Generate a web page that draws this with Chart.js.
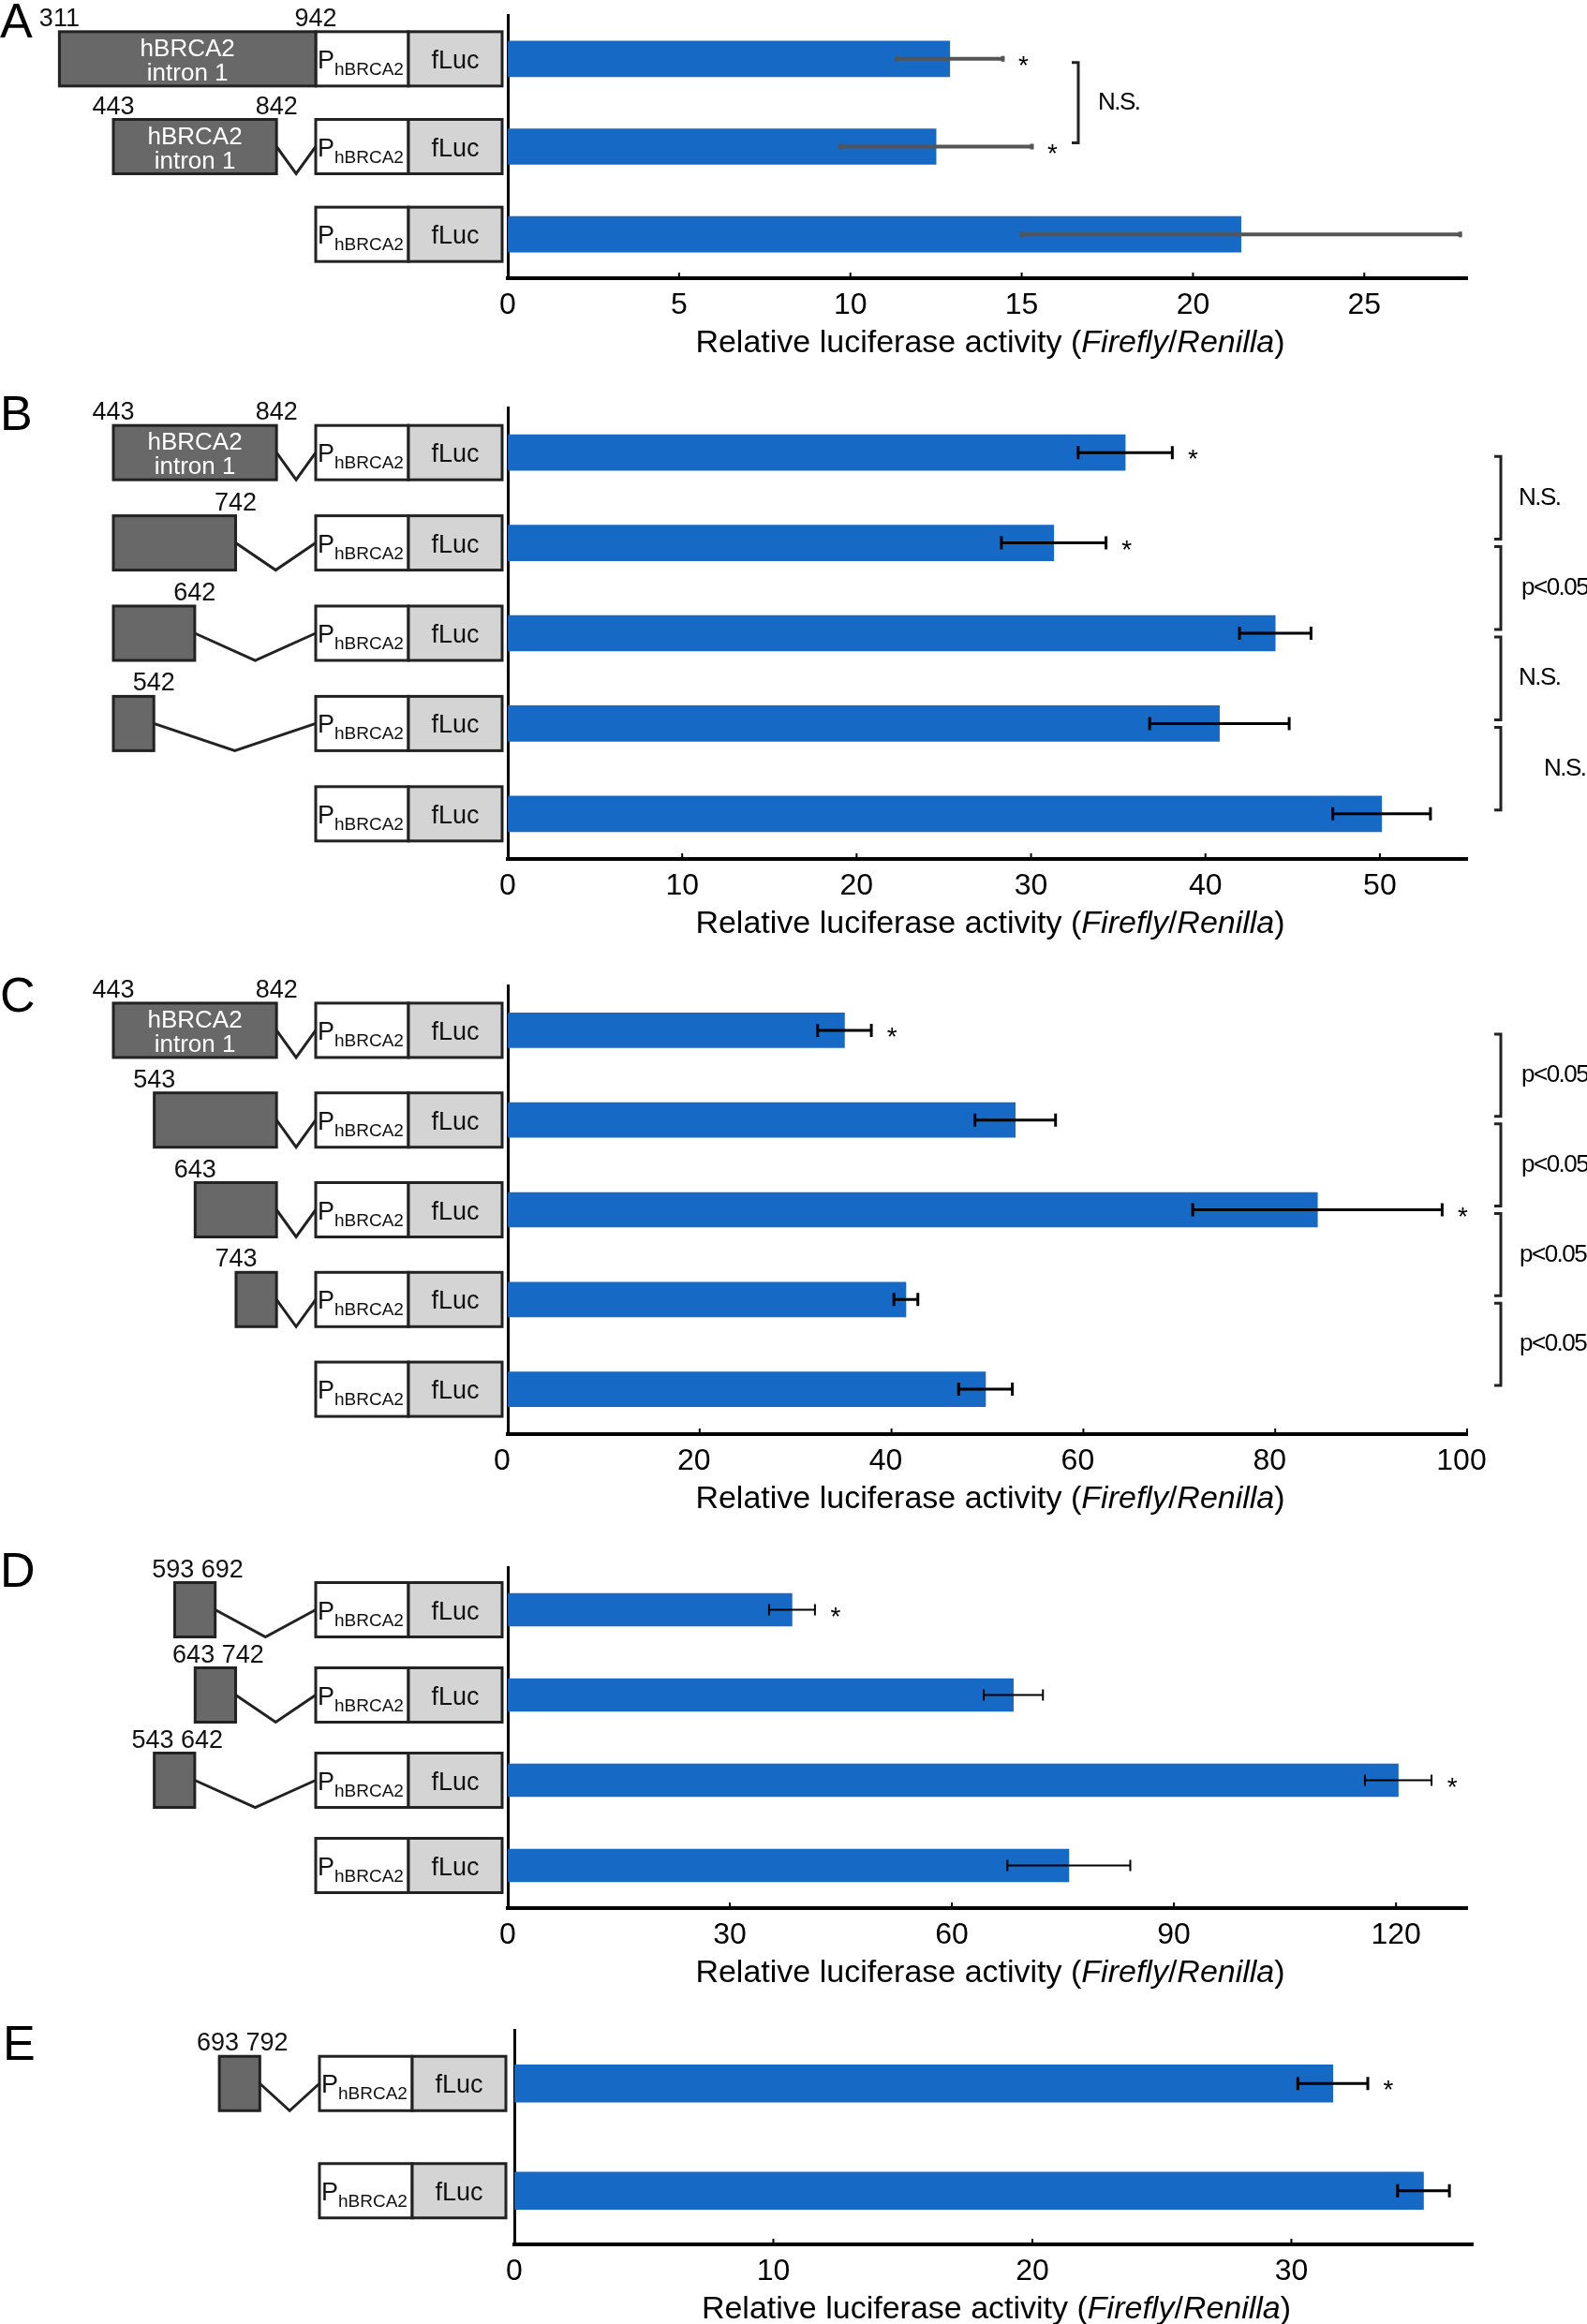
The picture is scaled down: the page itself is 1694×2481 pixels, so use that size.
<!DOCTYPE html>
<html>
<head>
<meta charset="utf-8">
<script src="https://cdn.jsdelivr.net/npm/chart.js@4.4.1/dist/chart.umd.min.js"></script>
<style>
  html, body { margin: 0; padding: 0; background: #fff; }
  body { width: 1694px; height: 2481px; position: relative; overflow: hidden; }
  .panel { position: absolute; left: 0; width: 1694px; }
</style>
</head>
<body>
<div class="panel" style="top:0"><canvas id="chartA" width="1694" height="410"></canvas></div>
<div class="panel" style="top:410px"><canvas id="chartB" width="1694" height="620"></canvas></div>
<div class="panel" style="top:1030px"><canvas id="chartC" width="1694" height="610"></canvas></div>
<div class="panel" style="top:1640px"><canvas id="chartD" width="1694" height="500"></canvas></div>
<div class="panel" style="top:2140px"><canvas id="chartE" width="1694" height="341"></canvas></div>

<script>
// ---- data ----
const titleParts = [["Relative luciferase activity (", false], ["Firefly", true], ["/", false], ["Renilla", true], [")", false]];

// A
const labelsA = ["311-942", "443-842", "promoter"];
const valuesA = [12.9, 12.5, 21.4];
const errorsA = [1.55, 2.8, 6.4];
const starsA = [true, true, false];
const constructsA = [[311, 942], [443, 842], null];
const bracketsA = ["N.S."];

// B
const labelsB = ["443-842", "443-742", "443-642", "443-542", "promoter"];
const valuesB = [35.4, 31.3, 44.0, 40.8, 50.1];
const errorsB = [2.7, 3.0, 2.05, 4.0, 2.8];
const starsB = [true, true, false, false, false];
const constructsB = [[443, 842], [443, 742], [443, 642], [443, 542], null];
const bracketsB = ["N.S.", "p<0.05", "N.S.", "N.S."];

// C
const labelsC = ["443-842", "543-842", "643-842", "743-842", "promoter"];
const valuesC = [35.1, 52.9, 84.4, 41.5, 49.8];
const errorsC = [2.8, 4.2, 13.0, 1.25, 2.8];
const starsC = [true, false, true, false, false];
const constructsC = [[443, 842], [543, 842], [643, 842], [743, 842], null];
const bracketsC = ["p<0.05", "p<0.05", "p<0.05", "p<0.05"];

// D
const labelsD = ["593-692", "643-742", "543-642", "promoter"];
const valuesD = [38.4, 68.3, 120.3, 75.8];
const errorsD = [3.1, 4.0, 4.5, 8.3];
const starsD = [true, false, true, false];
const constructsD = [[593, 692], [643, 742], [543, 642], null];

// E
const labelsE = ["693-792", "promoter"];
const valuesE = [31.6, 35.1];
const errorsE = [1.35, 1.0];
const starsE = [true, false];
const constructsE = [[693, 792], null];

// ---- drawing helpers ----
const FONT = "'Liberation Sans', Arial, Helvetica, sans-serif";
const BAR = "#1769c6";
const P_LEFT = 337, P_W = 99, F_W = 100, BOX_H = 58;
const toX = (p) => 121 + (p - 443) * 0.4365; // intron position -> px

function drawConstruct(ctx, c, mode, cy, s) {
  const pl = P_LEFT + s, top = cy - BOX_H / 2;
  ctx.lineWidth = 3;
  ctx.strokeStyle = "#222";
  ctx.fillStyle = "#fff";
  ctx.fillRect(pl, top, P_W, BOX_H);
  ctx.strokeRect(pl, top, P_W, BOX_H);
  ctx.fillStyle = "#d4d4d4";
  ctx.fillRect(pl + P_W, top, F_W, BOX_H);
  ctx.strokeRect(pl + P_W, top, F_W, BOX_H);

  ctx.fillStyle = "#111";
  ctx.textAlign = "left";
  ctx.textBaseline = "alphabetic";
  ctx.font = `27px ${FONT}`;
  ctx.fillText("P", pl + 2, cy + 10);
  const pw = ctx.measureText("P").width;
  ctx.font = `19px ${FONT}`;
  ctx.fillText("hBRCA2", pl + 2 + pw, cy + 17);
  ctx.font = `27px ${FONT}`;
  ctx.textAlign = "center";
  ctx.fillText("fLuc", pl + P_W + F_W / 2, cy + 10);

  if (!c) return;
  const x0 = toX(c[0]) + s;
  let x1 = toX(c[1]) + s;
  if (x1 > pl - 6) x1 = pl;
  ctx.fillStyle = "#686868";
  ctx.fillRect(x0, top, x1 - x0, BOX_H);
  ctx.strokeRect(x0, top, x1 - x0, BOX_H);
  if (x1 < pl) {
    ctx.beginPath();
    ctx.moveTo(x1, cy);
    ctx.lineTo((x1 + pl) / 2, cy + BOX_H / 2);
    ctx.lineTo(pl, cy);
    ctx.stroke();
  }
  ctx.fillStyle = "#111";
  ctx.font = `27px ${FONT}`;
  ctx.textAlign = "center";
  if (mode === "both") {
    ctx.fillText(String(c[0]), x0, top - 6);
    ctx.fillText(String(c[1]), x1, top - 6);
    ctx.fillStyle = "#fff";
    ctx.font = `26px ${FONT}`;
    ctx.fillText("hBRCA2", (x0 + x1) / 2, cy - 3);
    ctx.fillText("intron 1", (x0 + x1) / 2, cy + 23);
  } else if (mode === "left") {
    ctx.fillText(String(c[0]), x0, top - 6);
  } else if (mode === "right") {
    ctx.fillText(String(c[1]), x1, top - 6);
  } else {
    ctx.fillText(`${c[0]} ${c[1]}`, (x0 + x1) / 2 + 3, top - 6);
  }
}

const extras = {
  id: "extras",
  afterDatasetsDraw(chart, args, o) {
    const { ctx, chartArea: area, scales: { x, y } } = chart;
    ctx.save();

    // panel letter
    ctx.fillStyle = "#000";
    ctx.font = `52px ${FONT}`;
    ctx.textAlign = "left";
    ctx.textBaseline = "alphabetic";
    ctx.fillText(o.letter, o.letterX, o.letterY);

    o.values.forEach((v, i) => {
      const cy = y.getPixelForValue(i);
      const lo = x.getPixelForValue(v - o.errors[i]);
      const hi = x.getPixelForValue(v + o.errors[i]);
      ctx.strokeStyle = o.errColor;
      ctx.lineWidth = o.errWidth;
      ctx.beginPath();
      ctx.moveTo(lo, cy);
      ctx.lineTo(hi, cy);
      if (o.cap) {
        ctx.moveTo(lo, cy - o.cap); ctx.lineTo(lo, cy + o.cap);
        ctx.moveTo(hi, cy - o.cap); ctx.lineTo(hi, cy + o.cap);
      }
      ctx.stroke();
      if (o.stars[i]) {
        ctx.fillStyle = "#000";
        ctx.font = `28px ${FONT}`;
        ctx.textAlign = "center";
        ctx.textBaseline = "alphabetic";
        ctx.fillText("*", hi + 22, cy + 16);
      }
      drawConstruct(ctx, o.constructs[i], o.modes[i], cy, o.shift);
    });

    // significance brackets
    (o.brackets || []).forEach((b, i) => {
      const y0 = y.getPixelForValue(i) + 4;
      const y1 = y.getPixelForValue(i + 1) - 4;
      ctx.strokeStyle = "#222";
      ctx.lineWidth = 3;
      ctx.beginPath();
      ctx.moveTo(o.bracketX - 7, y0);
      ctx.lineTo(o.bracketX, y0);
      ctx.lineTo(o.bracketX, y1);
      ctx.lineTo(o.bracketX - 7, y1);
      ctx.stroke();
      ctx.fillStyle = "#000";
      ctx.font = `26px ${FONT}`;
      ctx.letterSpacing = "-1.5px";
      ctx.textAlign = "left";
      ctx.textBaseline = "middle";
      ctx.fillText(b, o.bracketX + o.labelDx[i], (y0 + y1) / 2);
      ctx.letterSpacing = "0px";
    });

    // small inward tick marks
    ctx.strokeStyle = "#000";
    ctx.lineWidth = 2;
    x.ticks.forEach((t) => {
      if (t.value === 0) return;
      const px = x.getPixelForValue(t.value);
      ctx.beginPath();
      ctx.moveTo(px, area.bottom);
      ctx.lineTo(px, area.bottom - 6);
      ctx.stroke();
    });

    // axis title with italic parts
    const fonts = titleParts.map(([t, it]) => `${it ? "italic " : ""}34px ${FONT}`);
    let total = 0;
    const widths = titleParts.map(([t], k) => {
      ctx.font = fonts[k];
      const w = ctx.measureText(t).width;
      total += w;
      return w;
    });
    let tx = (area.left + area.right) / 2 + 3 - total / 2;
    ctx.fillStyle = "#000";
    ctx.textAlign = "left";
    ctx.textBaseline = "middle";
    titleParts.forEach(([t], k) => {
      ctx.font = fonts[k];
      ctx.fillText(t, tx, area.bottom + 70);
      tx += widths[k];
    });
    ctx.restore();
  }
};

function makeChart(id, labels, values, p) {
  return new Chart(document.getElementById(id), {
    type: "bar",
    data: {
      labels: labels,
      datasets: [{
        data: values,
        backgroundColor: BAR,
        borderWidth: 0,
        barThickness: p.barThickness
      }]
    },
    options: {
      indexAxis: "y",
      responsive: false,
      animation: false,
      layout: { padding: { top: p.padTop, bottom: p.padBottom, left: p.left, right: p.right } },
      plugins: {
        legend: { display: false },
        tooltip: { enabled: false },
        extras: p.extras
      },
      scales: {
        x: {
          min: 0,
          max: p.max,
          grid: { drawOnChartArea: false, drawTicks: false },
          border: { display: true, color: "#000", width: 4 },
          ticks: {
            stepSize: p.step,
            includeBounds: false,
            padding: 10,
            labelOffset: p.labelOffset || 0,
            color: "#000",
            font: { family: FONT, size: 32 }
          },
          afterFit: (s) => { s.height = 80; }
        },
        y: {
          grid: { drawOnChartArea: false, drawTicks: false },
          border: { display: true, color: "#000", width: 3 },
          ticks: { display: false },
          afterFit: (s) => { s.width = 0; }
        }
      }
    },
    plugins: [extras]
  });
}

const common = { errColor: "#000", errWidth: 3, cap: 7, letterX: 0, shift: 0 };

makeChart("chartA", labelsA, valuesA, {
  padTop: 16, padBottom: 33, left: 542, right: 128, max: 28, step: 5, barThickness: 38,
  extras: Object.assign({}, common, {
    letter: "A", letterY: 40, values: valuesA, errors: errorsA, stars: starsA,
    constructs: constructsA, modes: ["both", "both", null],
    errColor: "#555", errWidth: 4, cap: 3,
    brackets: bracketsA, bracketX: 1151, labelDx: [21]
  })
});

makeChart("chartB", labelsB, valuesB, {
  padTop: 25, padBottom: 33, left: 542, right: 128, max: 55, step: 10, barThickness: 38,
  extras: Object.assign({}, common, {
    letter: "B", letterY: 49, values: valuesB, errors: errorsB, stars: starsB,
    constructs: constructsB, modes: ["both", "right", "right", "right", null],
    brackets: bracketsB, bracketX: 1602, labelDx: [19, 22, 19, 46]
  })
});

makeChart("chartC", labelsC, valuesC, {
  padTop: 22, padBottom: 29, left: 542, right: 128, max: 100, step: 20, barThickness: 37,
  labelOffset: -6,
  extras: Object.assign({}, common, {
    letter: "C", letterY: 50, values: valuesC, errors: errorsC, stars: starsC,
    constructs: constructsC, modes: ["both", "left", "left", "left", null],
    brackets: bracketsC, bracketX: 1602, labelDx: [22, 22, 20, 20]
  })
});

makeChart("chartD", labelsD, valuesD, {
  padTop: 33, padBottom: 23, left: 542, right: 128, max: 129.6, step: 30, barThickness: 35,
  extras: Object.assign({}, common, {
    letter: "D", letterY: 54, values: valuesD, errors: errorsD, stars: starsD,
    constructs: constructsD, modes: ["pair", "pair", "pair", null],
    errWidth: 2, cap: 6
  })
});

makeChart("chartE", labelsE, valuesE, {
  padTop: 27, padBottom: 5, left: 549, right: 122, max: 37, step: 10, barThickness: 40,
  extras: Object.assign({}, common, {
    letter: "E", letterX: 3, letterY: 59, values: valuesE, errors: errorsE, stars: starsE,
    constructs: constructsE, modes: ["pair", null], shift: 4
  })
});
</script>
</body>
</html>
